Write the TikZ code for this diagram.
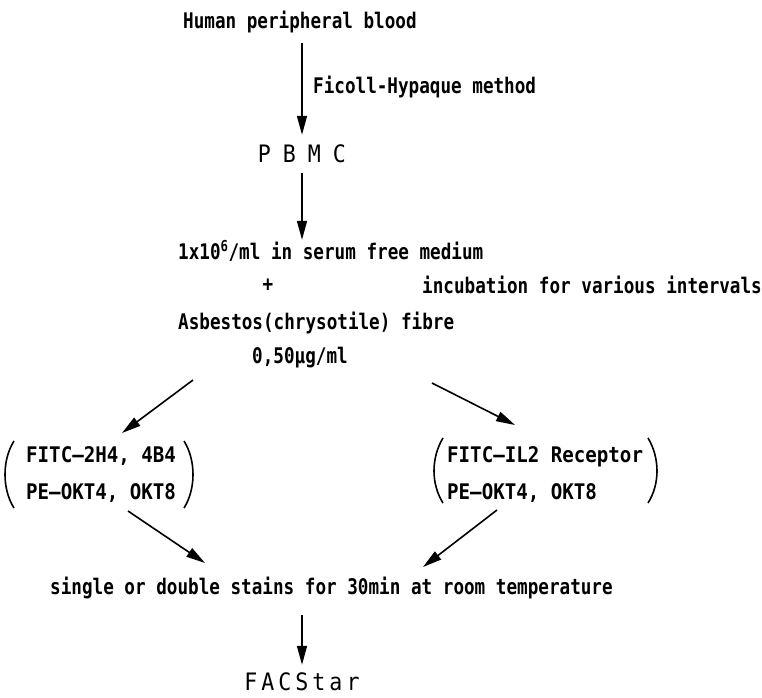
\documentclass[tikz,border=0pt]{standalone}
\usepackage{fontspec}
\setmainfont{DejaVu Sans Mono}[FakeStretch=0.82,UprightFont=* Bold]
\newfontfamily\thinfont{DejaVu Sans Mono}[FakeStretch=0.9]
\newfontfamily\grpfont{DejaVu Sans Mono}[FakeStretch=0.89,UprightFont=* Bold]
\usetikzlibrary{arrows.meta,calc}
\tikzset{
  txt/.style={inner sep=0pt, text height=16pt, text depth=5pt, font=\fontsize{21.5}{26}\selectfont},
  grp/.style={txt, font=\grpfont\fontsize{21.5}{26}\selectfont},
  wide/.style={txt, font=\thinfont\fontsize{24}{28}\selectfont},
  arr/.style={line width=1.6pt, -{Triangle[length=19pt,width=10pt]}},
  paren/.style={line width=1.6pt},
}
\newcommand{\ls}{\kern12pt}
\newcommand{\lt}{\kern4pt}
\begin{document}
\begin{tikzpicture}[x=1pt,y=-1pt]
\useasboundingbox (0,0) rectangle (762,697);
% text nodes
\node[txt,anchor=base west] (title) at (183,28) {Human peripheral blood};
\node[txt,anchor=base west] (ficoll) at (313,93) {Ficoll-Hypaque method};
\node[wide,anchor=base] (pbmc) at (302,162) {P\ls B\ls M\ls C};
\node[txt,anchor=base west] (conc) at (178,259) {1x10\textsuperscript{6}/ml in serum free medium};
\node[txt,anchor=base] (plus) at (268,291) {+};
\node[txt,anchor=base west] (incub) at (422,293) {incubation for various intervals};
\node[txt,anchor=base west] (asb) at (178,329) {Asbestos(chrysotile) fibre};
\node[txt,anchor=base] (dose) at (300,363) {0,50μg/ml};
\node[grp,anchor=base west] (l1) at (26,462) {FITC—2H4, 4B4};
\node[grp,anchor=base west] (l2) at (26,499) {PE—OKT4, OKT8};
\node[grp,anchor=base west] (r1) at (447,462) {FITC—IL2 Receptor};
\node[grp,anchor=base west] (r2) at (447,499) {PE—OKT4, OKT8};
\node[txt,anchor=base west] (stain) at (50,594) {single or double stains for 30min at room temperature};
\node[wide,anchor=base] (facs) at (302,690) {F\lt A\lt C\lt S\lt t\lt a\lt r};
% parentheses
\draw[paren] (14,441) .. controls (2,460) and (2,489) .. (14,508);
\draw[paren] (184,441) .. controls (196,460) and (196,489) .. (184,508);
\draw[paren] (443,438) .. controls (431,458) and (431,484) .. (443,503);
\draw[paren] (648,438) .. controls (660,458) and (660,484) .. (648,503);
% arrow end points
\coordinate (dl0) at (193,380); \coordinate (dl1) at (122,433);
\coordinate (dr0) at (432,383); \coordinate (dr1) at (515,425);
\coordinate (ul0) at (128,511); \coordinate (ul1) at (205,563);
\coordinate (ur0) at (497,510); \coordinate (ur1) at (423,567);
% connectors
\draw[arr, shorten <=10pt, shorten >=11pt] (title.south -| pbmc.north) -- (pbmc.north);
\draw[arr, shorten <=6pt, shorten >=3pt] (pbmc.south) -- (pbmc.south |- conc.north);
\draw[arr] (dl0) -- (dl1);
\draw[arr] (dr0) -- (dr1);
\draw[arr] (ul0) -- (ul1);
\draw[arr] (ur0) -- (ur1);
\draw[arr, shorten <=16pt, shorten >=9pt] (stain.south -| facs.north) -- (facs.north);
\end{tikzpicture}
\end{document}
